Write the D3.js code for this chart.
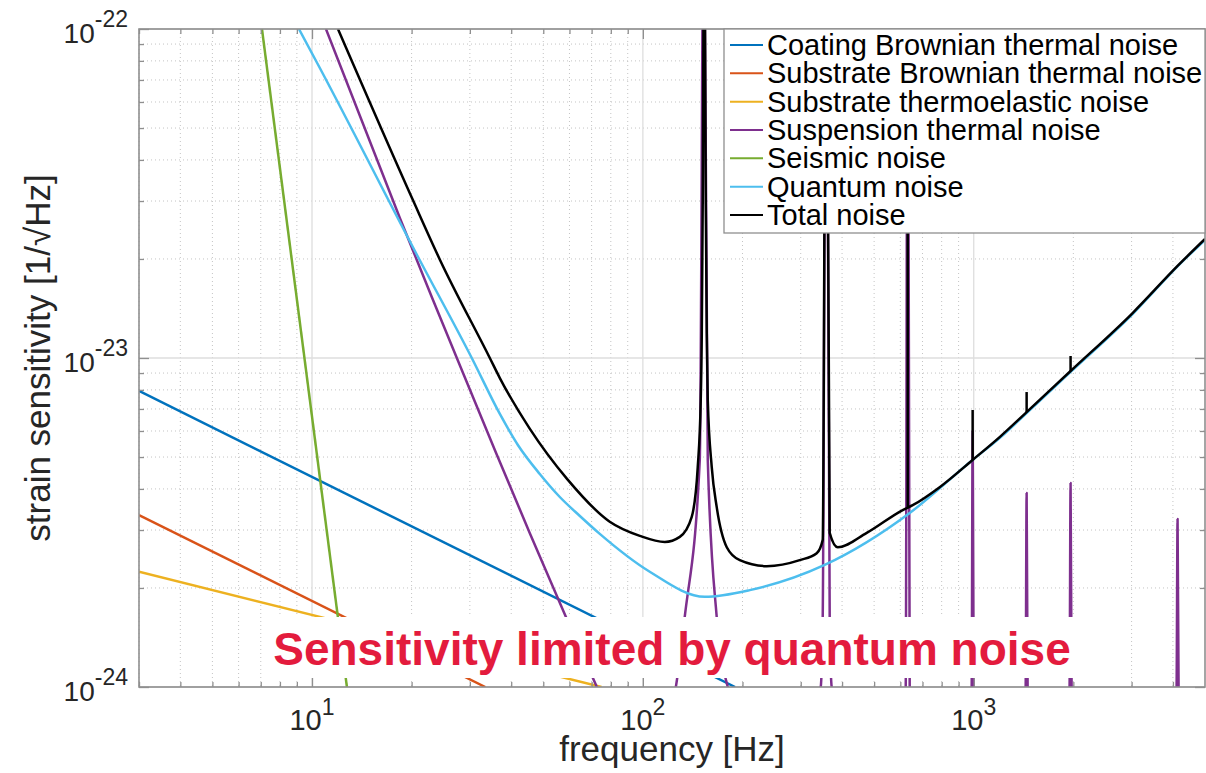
<!DOCTYPE html>
<html lang="en">
<head>
<meta charset="UTF-8">
<title>Strain sensitivity</title>
<script src="https://cdn.jsdelivr.net/npm/d3@7"></script>
<style>
  body { margin: 0; background: #fff; }
  svg text { font-family: "Liberation Sans", Arial, Helvetica, sans-serif; }
</style>
</head>
<body>
<div id="chart"></div>
<script>
// noise curves as [frequency (Hz), strain (1/sqrt(Hz))]
var coating = [[3, 7.94e-24], [190, 1e-24]];
var substrateBrownian = [[3, 3.33e-24], [33.4, 1e-24]];
var thermoelastic = [[3, 2.24e-24], [75, 1e-24]];
var seismic = [[7.06, 1e-22], [12.75, 1e-24]];
var suspension = [
  [11.02, 1e-22], [18.44, 2.66e-23], [23.03, 1.53e-23], [27.4, 1e-23], [35.9, 5.18e-24],
  [45.5, 2.94e-24], [58.9, 1.61e-24], [72.6, 1e-24], [100, 5e-25],
  [125.8, 1e-24], [133.8, 1.63e-24], [148.6, 4.9e-24], [152.8, 3e-22], [157.1, 4.9e-24],
  [167.2, 1.63e-24], [180.6, 1e-24], [260, 5e-25],
  [344.7, 1e-24], [349.6, 1.63e-24], [358.2, 3e-22], [367.0, 1.63e-24], [372.2, 1e-24], [500, 5e-25],
  [622.8, 1e-24], [631.6, 3e-22], [640.4, 1e-24], [800, 5e-25],
  [985.6, 1e-24], [992.4, 6.0e-24], [999.5, 1e-24], [1200, 5e-25],
  [1435, 1e-24], [1445, 3.89e-24], [1455, 1e-24], [1700, 5e-25],
  [1948, 1e-24], [1962, 4.17e-24], [1976, 1e-24], [3000, 5e-25],
  [4102, 1e-24], [4131, 3.24e-24], [4160, 1e-24], [5000, 5e-25]
];
var quantum = [
  [9.13, 1.0e-22], [10.56, 7.61e-23], [20.75, 2.06e-23], [30.4, 1.0e-23], [36.96, 6.76e-24],
  [41.9, 5.44e-24], [48.8, 4.44e-24], [56.1, 3.78e-24], [64.5, 3.31e-24], [74.1, 2.92e-24],
  [104.9, 2.24e-24], [153.9, 1.88e-24], [210.4, 1.97e-24], [354.4, 2.35e-24], [640.4, 3.38e-24],
  [992, 4.90e-24], [1197.6, 5.71e-24], [1445, 6.80e-24], [1962, 9.07e-24], [3021, 1.36e-23],
  [4131, 1.90e-23], [5000, 2.285e-23]
];
// total noise: the smooth curve, then the narrow lines that stand up from it
var total = [
  [11.98, 1e-22], [20.18, 3.02e-23], [24.35, 1.99e-23], [34.47, 1e-23], [36.96, 8.69e-24],
  [45.5, 6.1e-24], [58.9, 4.3e-24], [79.4, 3.18e-24], [97.9, 2.88e-24], [116.5, 2.76e-24],
  [129.3, 2.86e-24], [140.5, 3.29e-24], [146.5, 4.66e-24], [149.6, 7.45e-24], [150.7, 1.19e-23],
  [151.7, 3.02e-23], [153.3, 3e-22], [154.9, 3.02e-23], [156.0, 1.19e-23], [157.1, 7.45e-24],
  [161.5, 4.66e-24], [167.2, 3.52e-24], [179.3, 2.66e-24], [196.3, 2.43e-24], [236.8, 2.33e-24],
  [297.9, 2.43e-24], [335.3, 2.55e-24], [349.6, 2.80e-24], [358.2, 3e-22], [367.0, 2.94e-24],
  [388.1, 2.66e-24], [474.9, 2.94e-24], [610, 3.45e-24], [653.9, 3.57e-24], [789, 4.05e-24],
  [992.4, 4.90e-24], [1197.6, 5.75e-24], [1445, 6.85e-24], [1962, 9.13e-24], [3021, 1.37e-23],
  [4131, 1.905e-23], [5000, 2.30e-23]
];
// [frequency, base, top]
var totalLines = [
  [631.6, 3.5e-24, 3e-22], [992.4, 4.9e-24, 6.95e-24], [1445, 6.85e-24, 7.88e-24],
  [1962, 9.13e-24, 1.014e-23]
];

var seriesNames = ["Coating Brownian thermal noise", "Substrate Brownian thermal noise",
  "Substrate thermoelastic noise", "Suspension thermal noise", "Seismic noise",
  "Quantum noise", "Total noise"];
var seriesData = [coating, substrateBrownian, thermoelastic, suspension, seismic, quantum, total];
var seriesColors = ["#0072bd", "#d95319", "#edb120", "#7e2f8e", "#77ac30", "#4dbeee", "#000000"];

// ticks
var majorX = [10, 100, 1000];
var xExponents = ["1", "2", "3"];
var minorX = [3, 4, 5, 6, 7, 8, 9, 20, 30, 40, 50, 60, 70, 80, 90,
  200, 300, 400, 500, 600, 700, 800, 900, 2000, 3000, 4000];
var majorY = [1e-24, 1e-23, 1e-22];
var yExponents = ["-24", "-23", "-22"];
var minorY = [2e-24, 3e-24, 4e-24, 5e-24, 6e-24, 7e-24, 8e-24, 9e-24,
  2e-23, 3e-23, 4e-23, 5e-23, 6e-23, 7e-23, 8e-23, 9e-23];

var note = "Sensitivity limited by quantum noise";

var margin = {top: 29, right: 1, bottom: 86, left: 139};
var width = 1206 - margin.left - margin.right;
var height = 773 - margin.top - margin.bottom;
var axisColor = "#8f8f8f";
var textColor = "#262626";

var svg = d3.select("#chart").append("svg")
    .attr("width", 1206)
    .attr("height", 773);
var g = svg.append("g")
    .attr("transform", `translate(${margin.left},${margin.top})`);

var x = d3.scaleLog().domain([3, 5000]).range([0, width]);
var y = d3.scaleLog().domain([1e-24, 1e-22]).range([height, 0]);

// grid
var grid = g.append("g");
grid.selectAll(".mx").data(minorX).join("line")
    .attr("x1", d => x(d)).attr("x2", d => x(d)).attr("y1", 0).attr("y2", height)
    .attr("stroke", "#c4c4c4").attr("stroke-dasharray", "1,3");
grid.selectAll(".my").data(minorY).join("line")
    .attr("y1", d => y(d)).attr("y2", d => y(d)).attr("x1", 0).attr("x2", width)
    .attr("stroke", "#c4c4c4").attr("stroke-dasharray", "1,3");
grid.selectAll(".gx").data(majorX).join("line")
    .attr("x1", d => x(d)).attr("x2", d => x(d)).attr("y1", 0).attr("y2", height)
    .attr("stroke", "#dedede").attr("stroke-width", 1.3);
grid.selectAll(".gy").data(majorY).join("line")
    .attr("y1", d => y(d)).attr("y2", d => y(d)).attr("x1", 0).attr("x2", width)
    .attr("stroke", "#dedede").attr("stroke-width", 1.3);

// data lines
g.append("clipPath").attr("id", "plotclip")
  .append("rect").attr("width", width).attr("height", height);

var line = d3.line()
    .x(d => x(d[0]))
    .y(d => y(d[1]))
    .curve(d3.curveMonotoneX);

var plot = g.append("g").attr("clip-path", "url(#plotclip)");
plot.selectAll("path").data(seriesData).join("path")
    .attr("fill", "none")
    .attr("stroke", (d, i) => seriesColors[i])
    .attr("stroke-width", 2.5)
    .attr("stroke-linejoin", "round")
    .attr("d", line);
plot.selectAll(".spike").data(totalLines).join("line")
    .attr("x1", d => x(d[0])).attr("x2", d => x(d[0]))
    .attr("y1", d => y(d[1])).attr("y2", d => y(d[2]))
    .attr("stroke", "#000")
    .attr("stroke-width", 2.5);

// ticks on all four sides, pointing in
function styleAxis(sel) {
  sel.select(".domain").remove();
  sel.selectAll("line").attr("stroke", axisColor).attr("stroke-width", 1.3);
}
[[d3.axisBottom, x, `translate(0,${height})`], [d3.axisTop, x, null],
 [d3.axisLeft, y, null], [d3.axisRight, y, `translate(${width},0)`]].forEach(function(a) {
  var ax = g.append("g").attr("transform", a[2]);
  var major = a[1] === x ? majorX : majorY;
  var minor = a[1] === x ? minorX : minorY;
  ax.append("g").call(a[0](a[1]).tickValues(major).tickSize(-10).tickFormat("")).call(styleAxis);
  ax.append("g").call(a[0](a[1]).tickValues(minor).tickSize(-5).tickFormat("")).call(styleAxis);
});

g.append("rect")
    .attr("width", width).attr("height", height)
    .attr("fill", "none").attr("stroke", axisColor).attr("stroke-width", 1.6);

// tick labels
var xl = g.append("g").selectAll("text").data(majorX).join("text")
    .attr("x", d => x(d))
    .attr("y", height + 43)
    .attr("text-anchor", "middle")
    .attr("fill", textColor)
    .attr("font-size", 29);
xl.append("tspan").text("10");
xl.append("tspan").attr("dy", -15).attr("font-size", 23).text((d, i) => xExponents[i]);

var yl = g.append("g").selectAll("text").data(majorY).join("text")
    .attr("x", -11)
    .attr("y", d => y(d) + 14)
    .attr("text-anchor", "end")
    .attr("fill", textColor)
    .attr("font-size", 28);
yl.append("tspan").text("10");
yl.append("tspan").attr("dy", -16).attr("font-size", 23).text((d, i) => yExponents[i]);

// axis titles
g.append("text")
    .attr("x", width / 2)
    .attr("y", height + 74)
    .attr("text-anchor", "middle")
    .attr("fill", textColor)
    .attr("font-size", 35)
    .text("frequency [Hz]");
g.append("text")
    .attr("transform", `translate(-89,${height / 2}) rotate(-90)`)
    .attr("text-anchor", "middle")
    .attr("fill", textColor)
    .attr("font-size", 35)
    .text("strain sensitivity [1/\u221AHz]");

// annotation with white box
var noteBox = g.append("rect").attr("fill", "#fff");
var noteText = g.append("text")
    .attr("x", width / 2)
    .attr("y", 636)
    .attr("text-anchor", "middle")
    .attr("fill", "#e31b3d")
    .attr("font-weight", "bold")
    .attr("font-size", 46)
    .text(note);
var nb = noteText.node().getBBox();
noteBox.attr("x", nb.x - 4).attr("y", 588).attr("width", nb.width + 8).attr("height", 61);

// legend
var legendX = 585;
var legend = g.append("g").attr("transform", `translate(${legendX},0)`);
legend.append("rect")
    .attr("width", width - legendX).attr("height", 204)
    .attr("fill", "#fff").attr("stroke", axisColor).attr("stroke-width", 1.3);
var rows = legend.selectAll(".row").data(seriesNames).join("g")
    .attr("transform", (d, i) => `translate(0,${16 + i * 28.33})`);
rows.append("line")
    .attr("x1", 6).attr("x2", 39)
    .attr("stroke", (d, i) => seriesColors[i])
    .attr("stroke-width", 2);
rows.append("text")
    .attr("x", 43)
    .attr("y", 10)
    .attr("fill", "#000")
    .attr("font-size", 29)
    .text(d => d);
</script>
</body>
</html>
